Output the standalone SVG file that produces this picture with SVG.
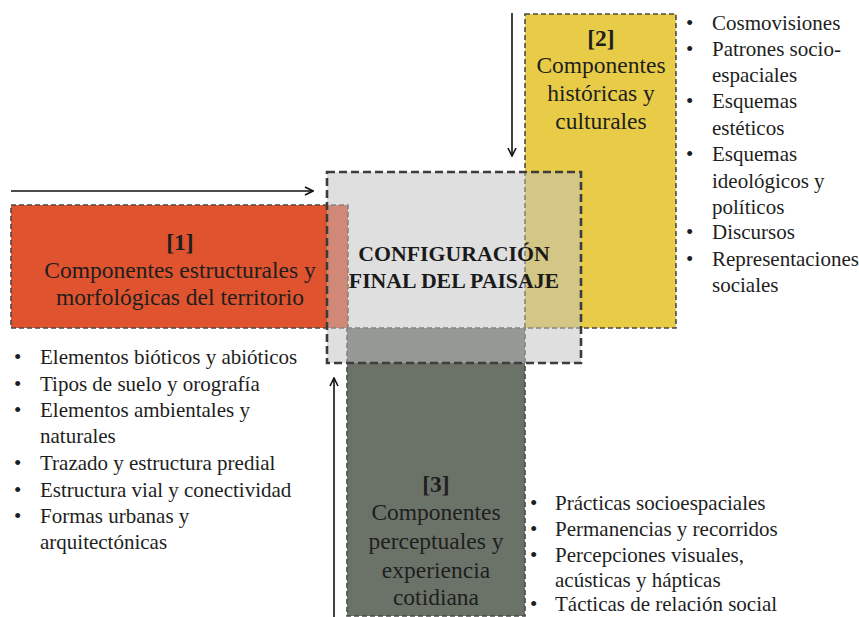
<svg xmlns="http://www.w3.org/2000/svg" width="859" height="617" viewBox="0 0 859 617">
<defs>
<style>
text{font-family:"Liberation Serif","Times New Roman",serif;fill:#1e1e1e}
.box{stroke:#4a4a4a;stroke-width:1.6;stroke-dasharray:5 3}
.t{font-size:23.5px;text-anchor:middle}
.n{font-size:23.5px;font-weight:bold;text-anchor:middle}
.c{font-size:21.8px;font-weight:bold;text-anchor:middle;fill:#1a1a1a}
.l{font-size:21px}
.arr{stroke:#111;stroke-width:1.6;fill:none}
</style>
<marker id="ah" viewBox="0 0 10 10" refX="9" refY="5" markerWidth="10" markerHeight="10" markerUnits="userSpaceOnUse" orient="auto">
<path d="M1,1 L9,5 L1,9" fill="none" stroke="#111" stroke-width="1.6"/>
</marker>
</defs>
<rect width="859" height="617" fill="#fff"/>
<g id="node1">
<rect class="box" x="11" y="205" width="337" height="123" fill="#E0532F"/>
<text class="n" x="180" y="250">[1]</text>
<text class="t" x="180" y="278">Componentes estructurales y</text>
<text class="t" x="180" y="305">morfológicas del territorio</text>
</g>
<g id="node2">
<rect class="box" x="525" y="14" width="151" height="314" fill="#E8CC48"/>
<text class="n" x="601" y="46">[2]</text>
<text class="t" x="601" y="73">Componentes</text>
<text class="t" x="601" y="101">históricas y</text>
<text class="t" x="601" y="129">culturales</text>
</g>
<g id="node3">
<rect class="box" x="347" y="328" width="178" height="288" fill="#6B7369"/>
<text class="n" x="436" y="492">[3]</text>
<text class="t" x="436" y="520">Componentes</text>
<text class="t" x="436" y="549">perceptuales y</text>
<text class="t" x="436" y="578">experiencia</text>
<text class="t" x="436" y="605">cotidiana</text>
</g>
<g id="center">
<rect x="327" y="172" width="254" height="191" fill="#c0c0c0" fill-opacity="0.5" stroke="#3c3c3c" stroke-width="2.6" stroke-dasharray="8 4"/>
<text class="c" x="454" y="261">CONFIGURACIÓN</text>
<text class="c" x="454" y="288">FINAL DEL PAISAJE</text>
</g>
<g id="list1">
<text class="l" x="14" y="364">•</text><text class="l" x="40" y="364">Elementos bióticos y abióticos</text>
<text class="l" x="14" y="391">•</text><text class="l" x="40" y="391">Tipos de suelo y orografía</text>
<text class="l" x="14" y="417">•</text><text class="l" x="40" y="417">Elementos ambientales y</text>
<text class="l" x="40" y="443">naturales</text>
<text class="l" x="14" y="470">•</text><text class="l" x="40" y="470">Trazado y estructura predial</text>
<text class="l" x="14" y="497">•</text><text class="l" x="40" y="497">Estructura vial y conectividad</text>
<text class="l" x="14" y="523">•</text><text class="l" x="40" y="523">Formas urbanas y</text>
<text class="l" x="40" y="549">arquitectónicas</text>
</g>
<g id="list2">
<text class="l" x="686" y="30">•</text><text class="l" x="712" y="30">Cosmovisiones</text>
<text class="l" x="686" y="56">•</text><text class="l" x="712" y="56">Patrones socio-</text>
<text class="l" x="712" y="82">espaciales</text>
<text class="l" x="686" y="108">•</text><text class="l" x="712" y="108">Esquemas</text>
<text class="l" x="712" y="135">estéticos</text>
<text class="l" x="686" y="161">•</text><text class="l" x="712" y="161">Esquemas</text>
<text class="l" x="712" y="188">ideológicos y</text>
<text class="l" x="712" y="214">políticos</text>
<text class="l" x="686" y="239">•</text><text class="l" x="712" y="239">Discursos</text>
<text class="l" x="686" y="266">•</text><text class="l" x="712" y="266">Representaciones</text>
<text class="l" x="712" y="292">sociales</text>
</g>
<g id="list3">
<text class="l" x="530" y="510">•</text><text class="l" x="555" y="510">Prácticas socioespaciales</text>
<text class="l" x="530" y="536">•</text><text class="l" x="555" y="536">Permanencias y recorridos</text>
<text class="l" x="530" y="562">•</text><text class="l" x="555" y="562">Percepciones visuales,</text>
<text class="l" x="555" y="587">acústicas y hápticas</text>
<text class="l" x="530" y="611">•</text><text class="l" x="555" y="611">Tácticas de relación social</text>
</g>
<g id="connectors">
<line class="arr" x1="11" y1="191" x2="313" y2="191" marker-end="url(#ah)"/>
<line class="arr" x1="512" y1="13" x2="512" y2="156" marker-end="url(#ah)"/>
<line class="arr" x1="334" y1="617" x2="334" y2="378" marker-end="url(#ah)"/>
</g>
</svg>
